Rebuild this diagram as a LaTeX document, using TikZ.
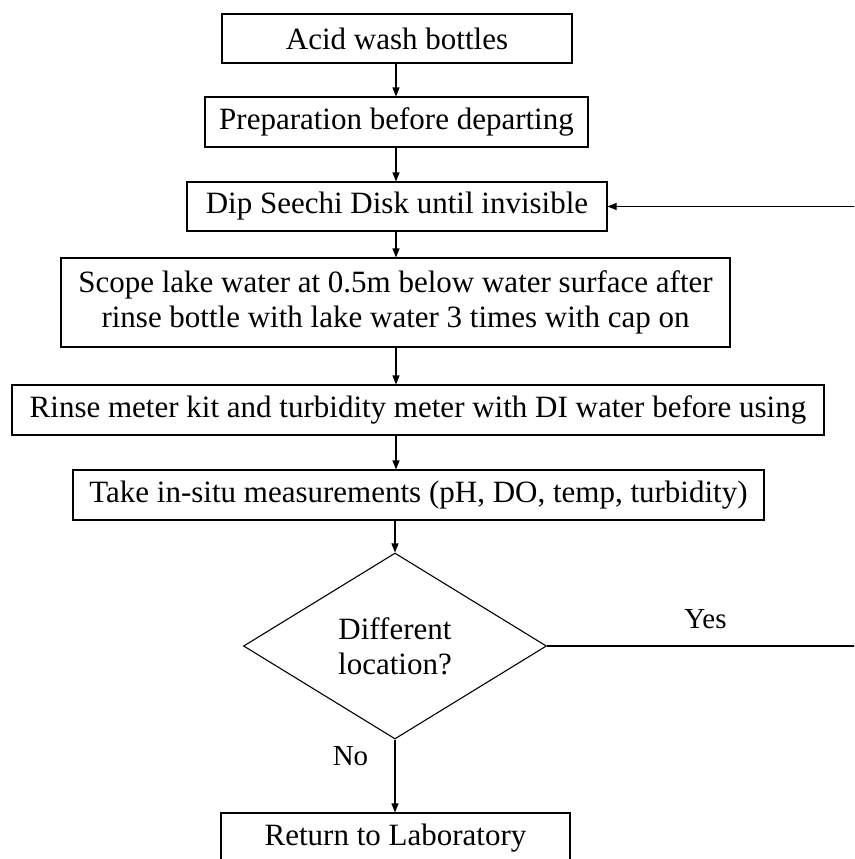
\documentclass[tikz,border=0pt]{standalone}
\usepackage{fontspec}
\setmainfont{Liberation Serif}
\usetikzlibrary{shapes.geometric,arrows.meta}
\begin{document}
\begin{tikzpicture}[x=1pt,y=-1pt,
  stepbox/.style={draw=black,line width=1.1pt,inner sep=0pt,align=center,
    font=\fontsize{31}{35}\selectfont},
  decision/.style={draw=black,line width=1.1pt,diamond,inner sep=0pt,align=center,
    font=\fontsize{31}{35}\selectfont},
  lbl/.style={inner sep=0pt,font=\fontsize{29}{33}\selectfont},
  arr/.style={line width=1.1pt,-{Triangle[length=9pt,width=7pt]}},
  lin/.style={line width=1.1pt}]
\useasboundingbox (0,0) rectangle (854,859);
\clip (0,0) rectangle (854,859);
\coordinate (axis) at (396,0);
\node[stepbox,minimum width=350,minimum height=49] (b1) at (397,38.5) {Acid wash bottles};
\node[stepbox,minimum width=383,minimum height=50] (b2) at (396.5,122) {Preparation before departing};
\node[stepbox,minimum width=420,minimum height=49] (b3) at (397,206.5) {Dip Seechi Disk until invisible};
\node[stepbox,minimum width=669,minimum height=89] (b4) at (395.5,302.5) {Scope lake water at 0.5m below water surface after\\rinse bottle with lake water 3 times with cap on};
\node[stepbox,minimum width=812,minimum height=50] (b5) at (418,410) {Rinse meter kit and turbidity meter with DI water before using};
\node[stepbox,minimum width=691,minimum height=50] (b6) at (418.5,495) {Take in-situ measurements (pH, DO, temp, turbidity)};
\node[decision,minimum width=303,minimum height=186] (d) at (395,646) {Different\\location?};
\node[stepbox,minimum width=349,minimum height=50] (b7) at (395.5,838) {Return to Laboratory};
\node[lbl] (yes) at (705.5,619) {Yes};
\node[lbl] (no) at (350.5,756) {No};
\coordinate (edge) at (857,646);
\draw[arr] (b1.south -| axis) -- (b2.north -| axis);
\draw[arr] (b2.south -| axis) -- (b3.north -| axis);
\draw[arr] (b3.south -| axis) -- (b4.north -| axis);
\draw[arr] (b4.south -| axis) -- (b5.north -| axis);
\draw[arr] (b5.south -| axis) -- (b6.north -| axis);
\draw[arr] (b6.south -| d.north) -- (d.north);
\draw[arr] (d.south) -- (b7.north -| d.south);
\draw[arr] (d.east) -- (edge) |- (b3.east);
\end{tikzpicture}
\end{document}
